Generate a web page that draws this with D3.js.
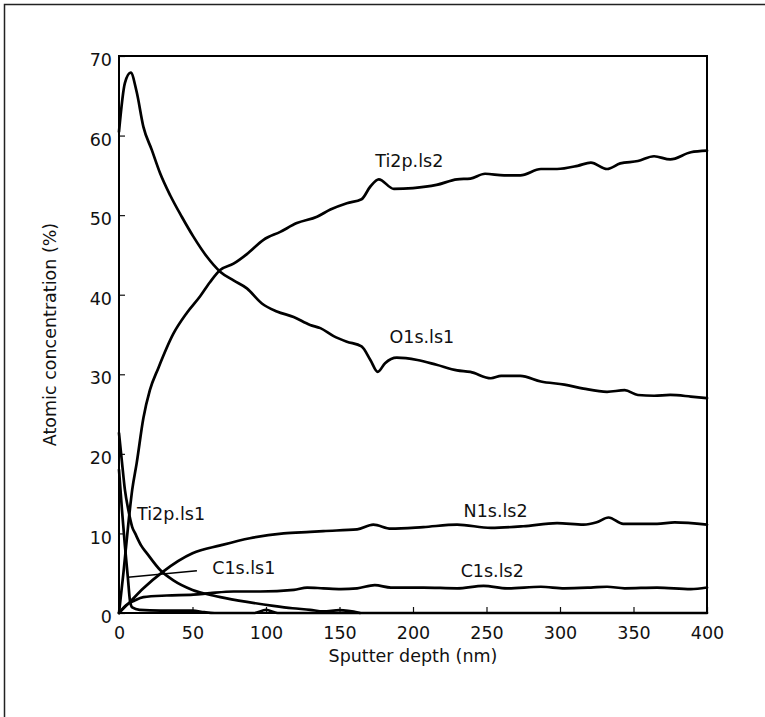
<!DOCTYPE html>
<html>
<head>
  <meta charset="utf-8">
  <title>Atomic concentration depth profile</title>
  <script src="https://d3js.org/d3.v7.min.js"></script>
  <style>
    body { margin: 0; background: #fff; }
    svg text { font-family: "DejaVu Sans", sans-serif; fill: #111; }
    .axis path, .axis line { stroke: #111; }
    .curve { fill: none; stroke: #000; stroke-width: 2.7; stroke-linejoin: round; stroke-linecap: round; }
  </style>
</head>
<body>
<script>
// depth (nm) and atomic concentration (%)
var o1sDepth  = [0, 4, 8, 12, 16.6, 22.3, 27.9, 34.8, 42.7, 50.6, 59.7, 68.8, 77.9, 87, 97.2, 107.4, 118.8, 130, 137, 146, 155, 165, 171, 176, 181, 189, 203, 216, 230, 239, 253, 260, 273, 287, 303, 316, 332, 344, 353, 364, 375, 389, 400];
var o1sValue  = [60.5, 66.6, 67.9, 65.5, 61.1, 58.2, 55.3, 52.5, 49.8, 47.3, 44.8, 42.9, 41.8, 40.8, 38.9, 37.9, 37.2, 36.2, 35.8, 34.8, 34.1, 33.5, 31.8, 30.3, 31.4, 32.1, 31.8, 31.2, 30.5, 30.3, 29.5, 29.8, 29.8, 29.1, 28.7, 28.2, 27.8, 28.0, 27.4, 27.3, 27.4, 27.2, 27.0];

var ti2Depth  = [0, 3, 6.4, 9, 12, 16.6, 21, 26.8, 37, 46.1, 55.2, 62, 68.8, 77.9, 87, 98.3, 109.7, 121, 134.7, 143.8, 155, 165, 171, 176.7, 187, 200, 216, 230, 239, 249, 262, 273, 287, 298, 312, 321, 332, 341, 353, 364, 375, 389, 400];
var ti2Value  = [0, 5, 11.3, 15.5, 18.8, 24.5, 28, 30.8, 35.1, 37.7, 39.8, 41.6, 43.1, 43.9, 45.1, 46.9, 47.9, 49.0, 49.8, 50.7, 51.5, 52.0, 53.6, 54.5, 53.3, 53.4, 53.8, 54.5, 54.6, 55.2, 55.0, 55.0, 55.8, 55.8, 56.2, 56.6, 55.8, 56.5, 56.8, 57.4, 57.0, 57.9, 58.1];

var n1sDepth  = [0, 7.5, 16.6, 30, 50, 69, 89, 112, 130, 139, 162, 173, 185, 207, 230, 253, 275, 298, 316, 325, 333, 343, 366, 378, 400];
var n1sValue  = [0, 1.4, 3.1, 5.2, 7.5, 8.5, 9.4, 10.0, 10.2, 10.3, 10.5, 11.1, 10.6, 10.8, 11.1, 10.7, 10.9, 11.3, 11.1, 11.4, 12.0, 11.2, 11.2, 11.4, 11.1];

var c1s2Depth = [0, 5, 10, 16.6, 32.5, 50.6, 62, 78, 96, 119, 128, 139, 151, 162, 174, 185, 207, 230, 248, 264, 287, 303, 321, 332, 344, 366, 389, 400];
var c1s2Value = [0, 1.0, 1.5, 2.0, 2.2, 2.3, 2.5, 2.7, 2.7, 2.9, 3.2, 3.1, 3.0, 3.1, 3.5, 3.2, 3.2, 3.1, 3.4, 3.1, 3.3, 3.1, 3.2, 3.3, 3.1, 3.2, 3.0, 3.2];

var ti1Depth  = [0, 2, 4, 6.4, 9, 11, 15, 19, 28, 37, 50, 64, 69, 87, 105, 118, 130, 139, 150, 164];
var ti1Value  = [22.6, 19, 15.5, 12.9, 10.8, 10.0, 8.5, 7.5, 5.4, 4.1, 2.9, 2.2, 2.0, 1.4, 0.9, 0.6, 0.4, 0.2, 0.35, 0];

var c1s1Depth = [0, 2, 4, 6, 7.5, 9, 14, 28, 50, 58, 65, 92, 100, 108, 400];
var c1s1Value = [18, 13, 8.5, 4.5, 1.5, 0.7, 0.4, 0.3, 0.3, 0.1, 0, 0, 0.4, 0, 0];

var seriesLabels = ["Ti2p.ls2", "O1s.ls1", "N1s.ls2", "C1s.ls2", "Ti2p.ls1", "C1s.ls1"];
var labelDepth   = [174.4, 184, 234.4, 232.4, 12.3, 63.4];
var labelValue   = [56.0, 33.9, 12.1, 4.5, 11.7, 4.9];

var xTicks = [0, 50, 100, 150, 200, 250, 300, 350, 400];
var yTicks = [0, 10, 20, 30, 40, 50, 60, 70];

var W = 765, H = 717;
var margin = {top: 56, right: 58, bottom: 104, left: 119};
var width = W - margin.left - margin.right,
    height = H - margin.top - margin.bottom;

var svg = d3.select("body").append("svg")
  .attr("width", W)
  .attr("height", H);

// outer frame of the figure
svg.append("path")
  .attr("d", "M4.5," + H + "V4.5H" + W)
  .attr("fill", "none")
  .attr("stroke", "#222")
  .attr("stroke-width", 1.5);

var g = svg.append("g")
  .attr("transform", "translate(" + margin.left + "," + margin.top + ")");

var x = d3.scaleLinear().domain([0, 400]).range([0, width]);
var y = d3.scaleLinear().domain([0, 70]).range([height, 0]);

// inward ticks
g.append("g")
  .attr("class", "x axis")
  .attr("transform", "translate(0," + height + ")")
  .call(d3.axisBottom(x).tickValues(xTicks).tickSize(-6).tickPadding(14))
  .call(function(a) {
    a.select(".domain").remove();
    a.selectAll("line").attr("stroke-width", 1.2);
    a.selectAll("text").style("font-size", "17.5px");
  });

g.append("g")
  .attr("class", "y axis")
  .call(d3.axisLeft(y).tickValues(yTicks).tickSize(-6).tickPadding(7))
  .call(function(a) {
    a.select(".domain").remove();
    a.selectAll("line").attr("stroke-width", 1.2);
    a.selectAll("text").style("font-size", "17.5px").attr("dy", "0.55em");
  });

// plot box
g.append("rect")
  .attr("width", width)
  .attr("height", height)
  .attr("fill", "none")
  .attr("stroke", "#000")
  .attr("stroke-width", 2);

var line = d3.line()
  .x(function(d) { return x(d[0]); })
  .y(function(d) { return y(d[1]); })
  .curve(d3.curveMonotoneX);

function pairs(xs, ys) {
  return xs.map(function(v, i) { return [v, ys[i]]; });
}

var curves = [
  pairs(o1sDepth, o1sValue),
  pairs(ti2Depth, ti2Value),
  pairs(n1sDepth, n1sValue),
  pairs(c1s2Depth, c1s2Value),
  pairs(ti1Depth, ti1Value),
  pairs(c1s1Depth, c1s1Value)
];

g.selectAll(".curve")
  .data(curves)
  .enter()
  .append("path")
  .attr("class", "curve")
  .attr("d", line);

// leader line for C1s.ls1
g.append("line")
  .attr("x1", x(6.1)).attr("y1", y(4.5))
  .attr("x2", x(53)).attr("y2", y(5.3))
  .attr("stroke", "#000")
  .attr("stroke-width", 1.6);

g.selectAll(".label")
  .data(seriesLabels)
  .enter()
  .append("text")
  .attr("class", "label")
  .attr("x", function(d, i) { return x(labelDepth[i]); })
  .attr("y", function(d, i) { return y(labelValue[i]); })
  .style("font-size", "17.5px")
  .text(function(d) { return d; });

// axis titles
g.append("text")
  .attr("x", width / 2)
  .attr("y", height + 49)
  .style("text-anchor", "middle")
  .style("font-size", "17.5px")
  .text("Sputter depth (nm)");

g.append("text")
  .attr("transform", "rotate(-90)")
  .attr("x", -height / 2)
  .attr("y", -63)
  .style("text-anchor", "middle")
  .style("font-size", "17.5px")
  .text("Atomic concentration (%)");
</script>
</body>
</html>
